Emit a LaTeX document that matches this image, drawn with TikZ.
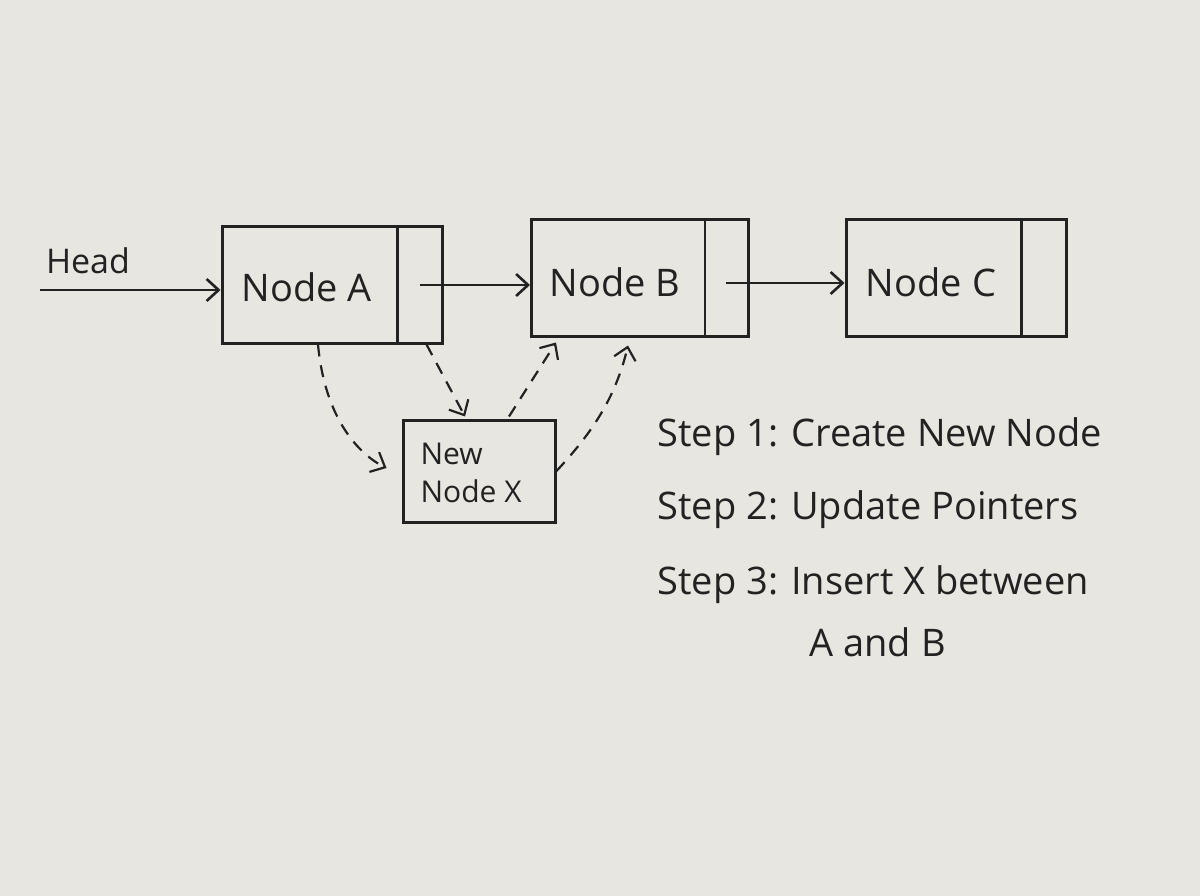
\documentclass[tikz,border=0pt]{standalone}
\usepackage{fontspec}
\setmainfont{Open Sans}
\usetikzlibrary{calc,arrows.meta}
\definecolor{paper}{HTML}{E8E6E1}
\definecolor{pencil}{HTML}{222222}
\tikzset{
  box/.style={draw=pencil, line width=3pt, minimum width=#1, minimum height=116pt, inner sep=0pt},
  lbl/.style={text=pencil, font=\fontsize{38}{40}\selectfont},
  ptr/.style={draw=pencil, line width=2.6pt, -{Straight Barb[length=12pt,width=22pt]}},
  dptr/.style={ptr, dash pattern=on 12pt off 9pt, line width=2.2pt}
}
\begin{document}
\begin{tikzpicture}[x=1pt,y=-1pt]
  \fill[paper] (0,0) rectangle (1200,896);
  \useasboundingbox (0,0) rectangle (1200,896);

  % list nodes
  \node[box=220pt] (A) at (332,285) {};
  \node[box=217pt] (B) at (640,278) {};
  \node[box=220pt] (C) at (956,278) {};
  \draw[pencil, line width=2.6pt] ($(A.north east)+(-46,0)$) -- ($(A.south east)+(-46,0)$);
  \draw[pencil, line width=2.6pt] ($(B.north east)+(-45,0)$) -- ($(B.south east)+(-45,0)$);
  \draw[pencil, line width=2.6pt] ($(C.north east)+(-46,0)$) -- ($(C.south east)+(-46,0)$);
  \node[lbl] (Atxt) at (307,287) {Node A};
  \node[lbl] (Btxt) at (615,282) {Node B};
  \node[lbl] (Ctxt) at (931,282) {Node C};

  % new node
  \node[box=152pt, minimum height=102pt] (X) at (479,471) {};
  \node[lbl, font=\fontsize{30}{38}\selectfont, align=left, anchor=west] (Xtxt) at (417,473) {New\\Node X};

  % head
  \node[lbl, font=\fontsize{34}{36}\selectfont] (head) at (88,261) {Head};
  \coordinate (h0) at (40,290);
  \draw[ptr] (h0) -- (A.west |- h0);

  % pointers
  \draw[ptr] ($(A.east)+(-24,0)$) -- (B.west |- A.east);
  \draw[ptr] ($(B.east)+(-24,5)$) -- ($(C.west)+(0,5)$);

  % new links
  \draw[dptr] ($(A.south)+(-14,0)$) .. controls (325,420) and (360,455) .. ($(X.west)+(-15,-3)$);
  \draw[dptr] ($(A.south east)+(-17,0)$) -- ($(X.north)+(-14,-2)$);
  \draw[dptr] ($(X.north)+(30,-2)$) -- ($(B.south)+(-84,5)$);
  \draw[dptr] ($(X.east)+(0,0)$) .. controls (590,435) and (615,400) .. ($(B.south)+(-12,8)$);

  % steps
  \node[lbl, anchor=west] (s1) at (654,437) {Step 1: Create New Node};
  \node[lbl, anchor=west] (s2) at (654,510) {Step 2: Update Pointers};
  \node[lbl, anchor=west] (s3) at (654,585) {Step 3: Insert X between};
  \node[lbl, anchor=west] (s3b) at (806,642) {A and B};
\end{tikzpicture}
\end{document}
